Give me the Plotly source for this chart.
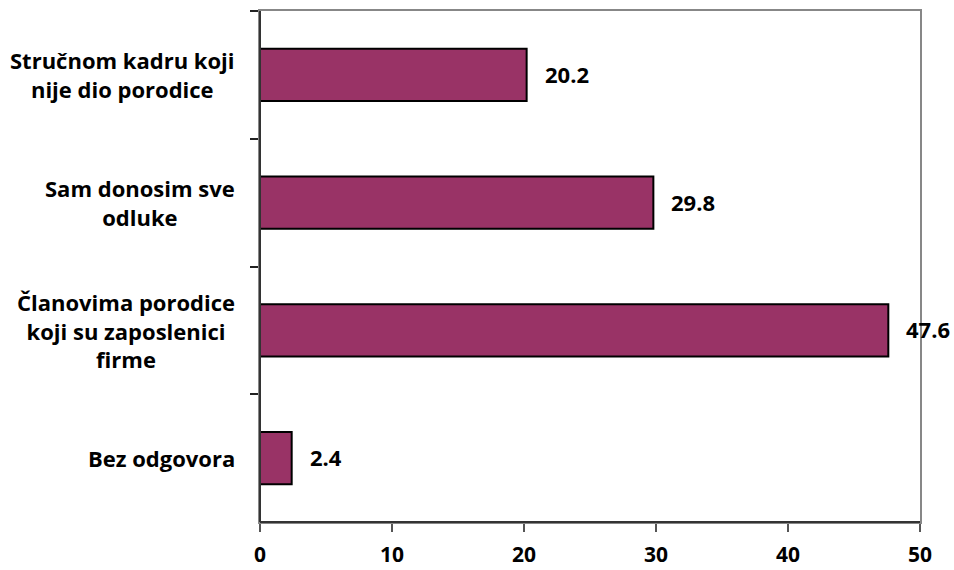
import plotly.graph_objects as go

# Answers, listed top to bottom as they appear on the chart
categories = [
    "Stručnom kadru koji<br>nije dio porodice",
    "Sam donosim sve<br>odluke",
    "Članovima porodice<br>koji su zaposlenici<br>firme",
    "Bez odgovora",
]
values = [20.2, 29.8, 47.6, 2.4]
x_ticks = [0, 10, 20, 30, 40, 50]

BAR_COLOR = "#993366"
FONT = "Open Sans"

fig = go.Figure()
fig.add_trace(go.Bar(
    x=values,
    y=categories,
    orientation="h",
    marker=dict(color=BAR_COLOR, line=dict(color="black", width=2)),
    width=0.41,
    hoverinfo="x+y",
))

# value labels to the right of the bars
for cat, val in zip(categories, values):
    fig.add_annotation(x=val, y=cat, xref="x", yref="y", text=str(val),
                       showarrow=False, xanchor="left", xshift=16, yshift=1,
                       font=dict(family=FONT, size=22, color="black", weight="bold"))

# category labels: block right-aligned, lines centred
for cat in categories:
    fig.add_annotation(x=-23 / 660, y=cat, xref="paper", yref="y", text=cat,
                       showarrow=False, xanchor="right", align="center",
                       font=dict(family=FONT, size=22, color="black", weight="bold"))

# dark left and bottom axis lines over the grey mirrored frame
fig.add_shape(type="line", xref="paper", yref="paper", x0=0, x1=0, y0=0, y1=1,
              line=dict(color="#333333", width=2))
fig.add_shape(type="line", xref="paper", yref="paper", x0=0, x1=1, y0=0, y1=0,
              line=dict(color="#333333", width=2))

fig.update_xaxes(range=[0, 50], tickvals=x_ticks, ticks="outside", ticklen=8,
                 tickcolor="#555555", tickwidth=2, showline=True, linecolor="#878787",
                 linewidth=2, mirror=True, showgrid=False, zeroline=False,
                 ticklabelstandoff=5, automargin=False,
                 tickfont=dict(family=FONT, size=21, color="black", weight="bold"))
fig.update_yaxes(categoryorder="array", categoryarray=categories, autorange="reversed",
                 tickson="boundaries", ticks="outside", ticklen=8, tickcolor="#222222",
                 tickwidth=2, showline=True, linecolor="#878787", linewidth=2, mirror=True,
                 showgrid=False, showticklabels=False, automargin=False)

fig.update_layout(
    width=954, height=570,
    margin=dict(l=260, r=34, t=11, b=48),
    plot_bgcolor="white", paper_bgcolor="white",
    showlegend=False,
    font=dict(family=FONT, color="black"),
)

fig.write_html("out.html", config={"displayModeBar": False},
               post_script="document.body.style.margin='0';")
